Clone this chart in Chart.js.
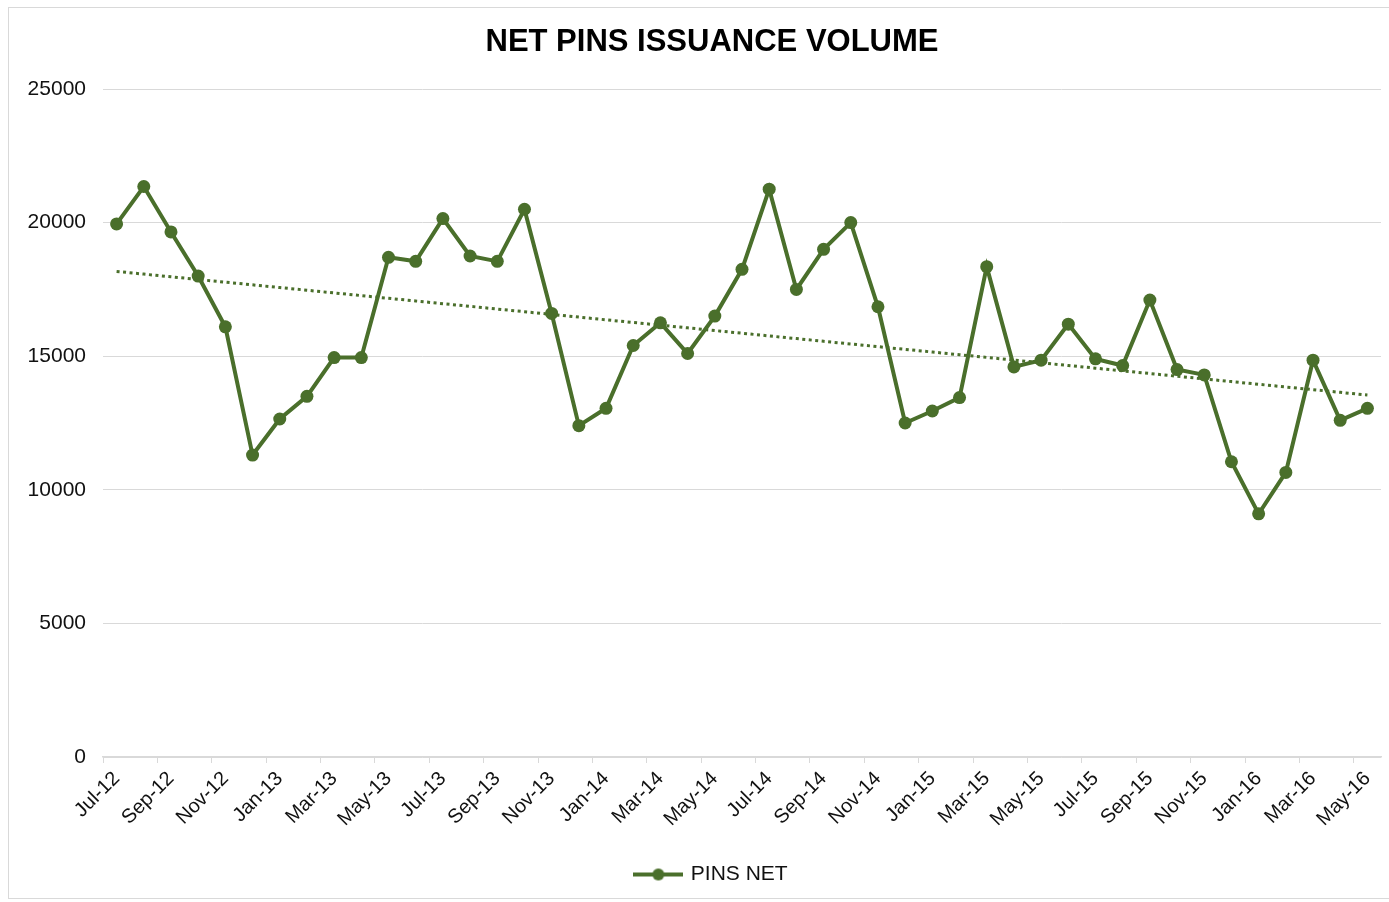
<!DOCTYPE html>
<html>
<head>
<meta charset="utf-8">
<script src="https://cdn.jsdelivr.net/npm/chart.js@4"></script>
<style>
  html, body { margin: 0; background: #fff; overflow: hidden; width: 1389px; height: 902px; }
  #frame { position: absolute; left: 8px; top: 7px; width: 1420px; height: 890px; border: 1px solid #d9d9d9; }
  #wrap { position: absolute; left: 0; top: 0; width: 1424px; height: 902px; }
  #title {
    position: absolute; left: 0; top: 21px; width: 1424px; text-align: center;
    font: bold 31px "Liberation Sans", Arial, sans-serif; color: #000; line-height: 40px;
  }
</style>
</head>
<body>
<div id="frame"></div>
<div id="wrap"><canvas id="chart" width="1424" height="902"></canvas></div>
<div id="title">NET PINS ISSUANCE VOLUME</div>
<script>
const months = [
  'Jul-12', 'Aug-12', 'Sep-12', 'Oct-12', 'Nov-12', 'Dec-12',
  'Jan-13', 'Feb-13', 'Mar-13', 'Apr-13', 'May-13', 'Jun-13', 'Jul-13', 'Aug-13', 'Sep-13', 'Oct-13', 'Nov-13', 'Dec-13',
  'Jan-14', 'Feb-14', 'Mar-14', 'Apr-14', 'May-14', 'Jun-14', 'Jul-14', 'Aug-14', 'Sep-14', 'Oct-14', 'Nov-14', 'Dec-14',
  'Jan-15', 'Feb-15', 'Mar-15', 'Apr-15', 'May-15', 'Jun-15', 'Jul-15', 'Aug-15', 'Sep-15', 'Oct-15', 'Nov-15', 'Dec-15',
  'Jan-16', 'Feb-16', 'Mar-16', 'Apr-16', 'May-16'
];

const pinsNet = [
  19950, 21350, 19650, 18000, 16100, 11300,
  12650, 13500, 14950, 14950, 18700, 18550, 20150, 18750, 18550, 20500, 16600, 12400,
  13050, 15400, 16250, 15100, 16500, 18250, 21250, 17500, 19000, 20000, 16850, 12500,
  12950, 13450, 18350, 14600, 14850, 16200, 14900, 14650, 17100, 14500, 14300, 11050,
  9100, 10650, 14850, 12600, 13050
];

const yTicks = [0, 5000, 10000, 15000, 20000, 25000];

const green = '#4a6f2b';

// linear trendline (least squares over the series, like the Excel trendline)
function linearTrend(values) {
  const n = values.length;
  let sx = 0, sy = 0, sxy = 0, sxx = 0;
  values.forEach((v, i) => { sx += i; sy += v; sxy += i * v; sxx += i * i; });
  const slope = (n * sxy - sx * sy) / (n * sxx - sx * sx);
  const icpt = (sy - slope * sx) / n;
  return values.map((v, i) => icpt + slope * i);
}
const trend = linearTrend(pinsNet);

// legend marker: line with a dot in the middle
const legendMark = document.createElement('canvas');
legendMark.width = 50;
legendMark.height = 14;
(function () {
  const c = legendMark.getContext('2d');
  c.strokeStyle = green;
  c.lineWidth = 4;
  c.beginPath();
  c.moveTo(0, 7);
  c.lineTo(50, 7);
  c.stroke();
  c.fillStyle = green;
  c.beginPath();
  c.arc(25, 7, 6, 0, Math.PI * 2);
  c.fill();
})();

Chart.defaults.font.family = '"Liberation Sans", Arial, sans-serif';
Chart.defaults.color = '#111';

new Chart(document.getElementById('chart').getContext('2d'), {
  type: 'line',
  data: {
    labels: months,
    datasets: [{
      label: 'PINS NET',
      data: pinsNet,
      borderColor: green,
      backgroundColor: green,
      borderWidth: 4,
      pointRadius: 6.5,
      pointHoverRadius: 6.5,
      pointBackgroundColor: green,
      pointBorderWidth: 0,
      tension: 0
    }, {
      label: 'Trend',
      data: trend,
      borderColor: green,
      borderWidth: 3,
      borderDash: [3, 3.5],
      pointRadius: 0,
      tension: 0
    }]
  },
  options: {
    responsive: false,
    animation: false,
    layout: {
      padding: { left: 0, right: 0, top: 89, bottom: 7 }
    },
    plugins: {
      title: { display: false },
      legend: {
        position: 'bottom',
        labels: {
          color: '#111',
          font: { size: 21 },
          usePointStyle: true,
          pointStyleWidth: 44,
          padding: 10,
          generateLabels: chart => [{
            text: 'PINS NET',
            pointStyle: legendMark,
            fillStyle: green,
            strokeStyle: green,
            lineWidth: 0,
            datasetIndex: 0,
            fontColor: '#111'
          }]
        }
      },
      tooltip: { enabled: false }
    },
    scales: {
      x: {
        offset: true,
        border: { color: '#d9d9d9', width: 1.5 },
        grid: {
          offset: true,
          drawOnChartArea: false,
          drawTicks: true,
          tickLength: 6,
          color: ctx => (ctx.index % 2 === 0 ? '#d9d9d9' : 'rgba(0,0,0,0)')
        },
        ticks: {
          autoSkip: false,
          minRotation: 45,
          maxRotation: 45,
          padding: 4,
          font: { size: 20 },
          color: '#111',
          callback: function (value, index) {
            return index % 2 === 0 ? months[index] : '';
          }
        },
        afterFit: scale => { scale.height = 97; }
      },
      y: {
        min: 0,
        max: 25000,
        border: { display: false },
        grid: { color: '#d9d9d9', lineWidth: 1, drawTicks: false },
        afterBuildTicks: scale => { scale.ticks = yTicks.map(v => ({ value: v })); },
        ticks: {
          padding: 17,
          font: { size: 21 },
          color: '#111',
          callback: value => String(value)
        },
        afterFit: scale => { scale.width = 103; }
      },
      // empty right-hand spacer so the plot ends where the original's does
      yRight: {
        position: 'right',
        min: 0,
        max: 25000,
        border: { display: false },
        grid: { display: false },
        ticks: { display: false },
        afterFit: scale => { scale.width = 43; }
      }
    }
  }
});
</script>
</body>
</html>
